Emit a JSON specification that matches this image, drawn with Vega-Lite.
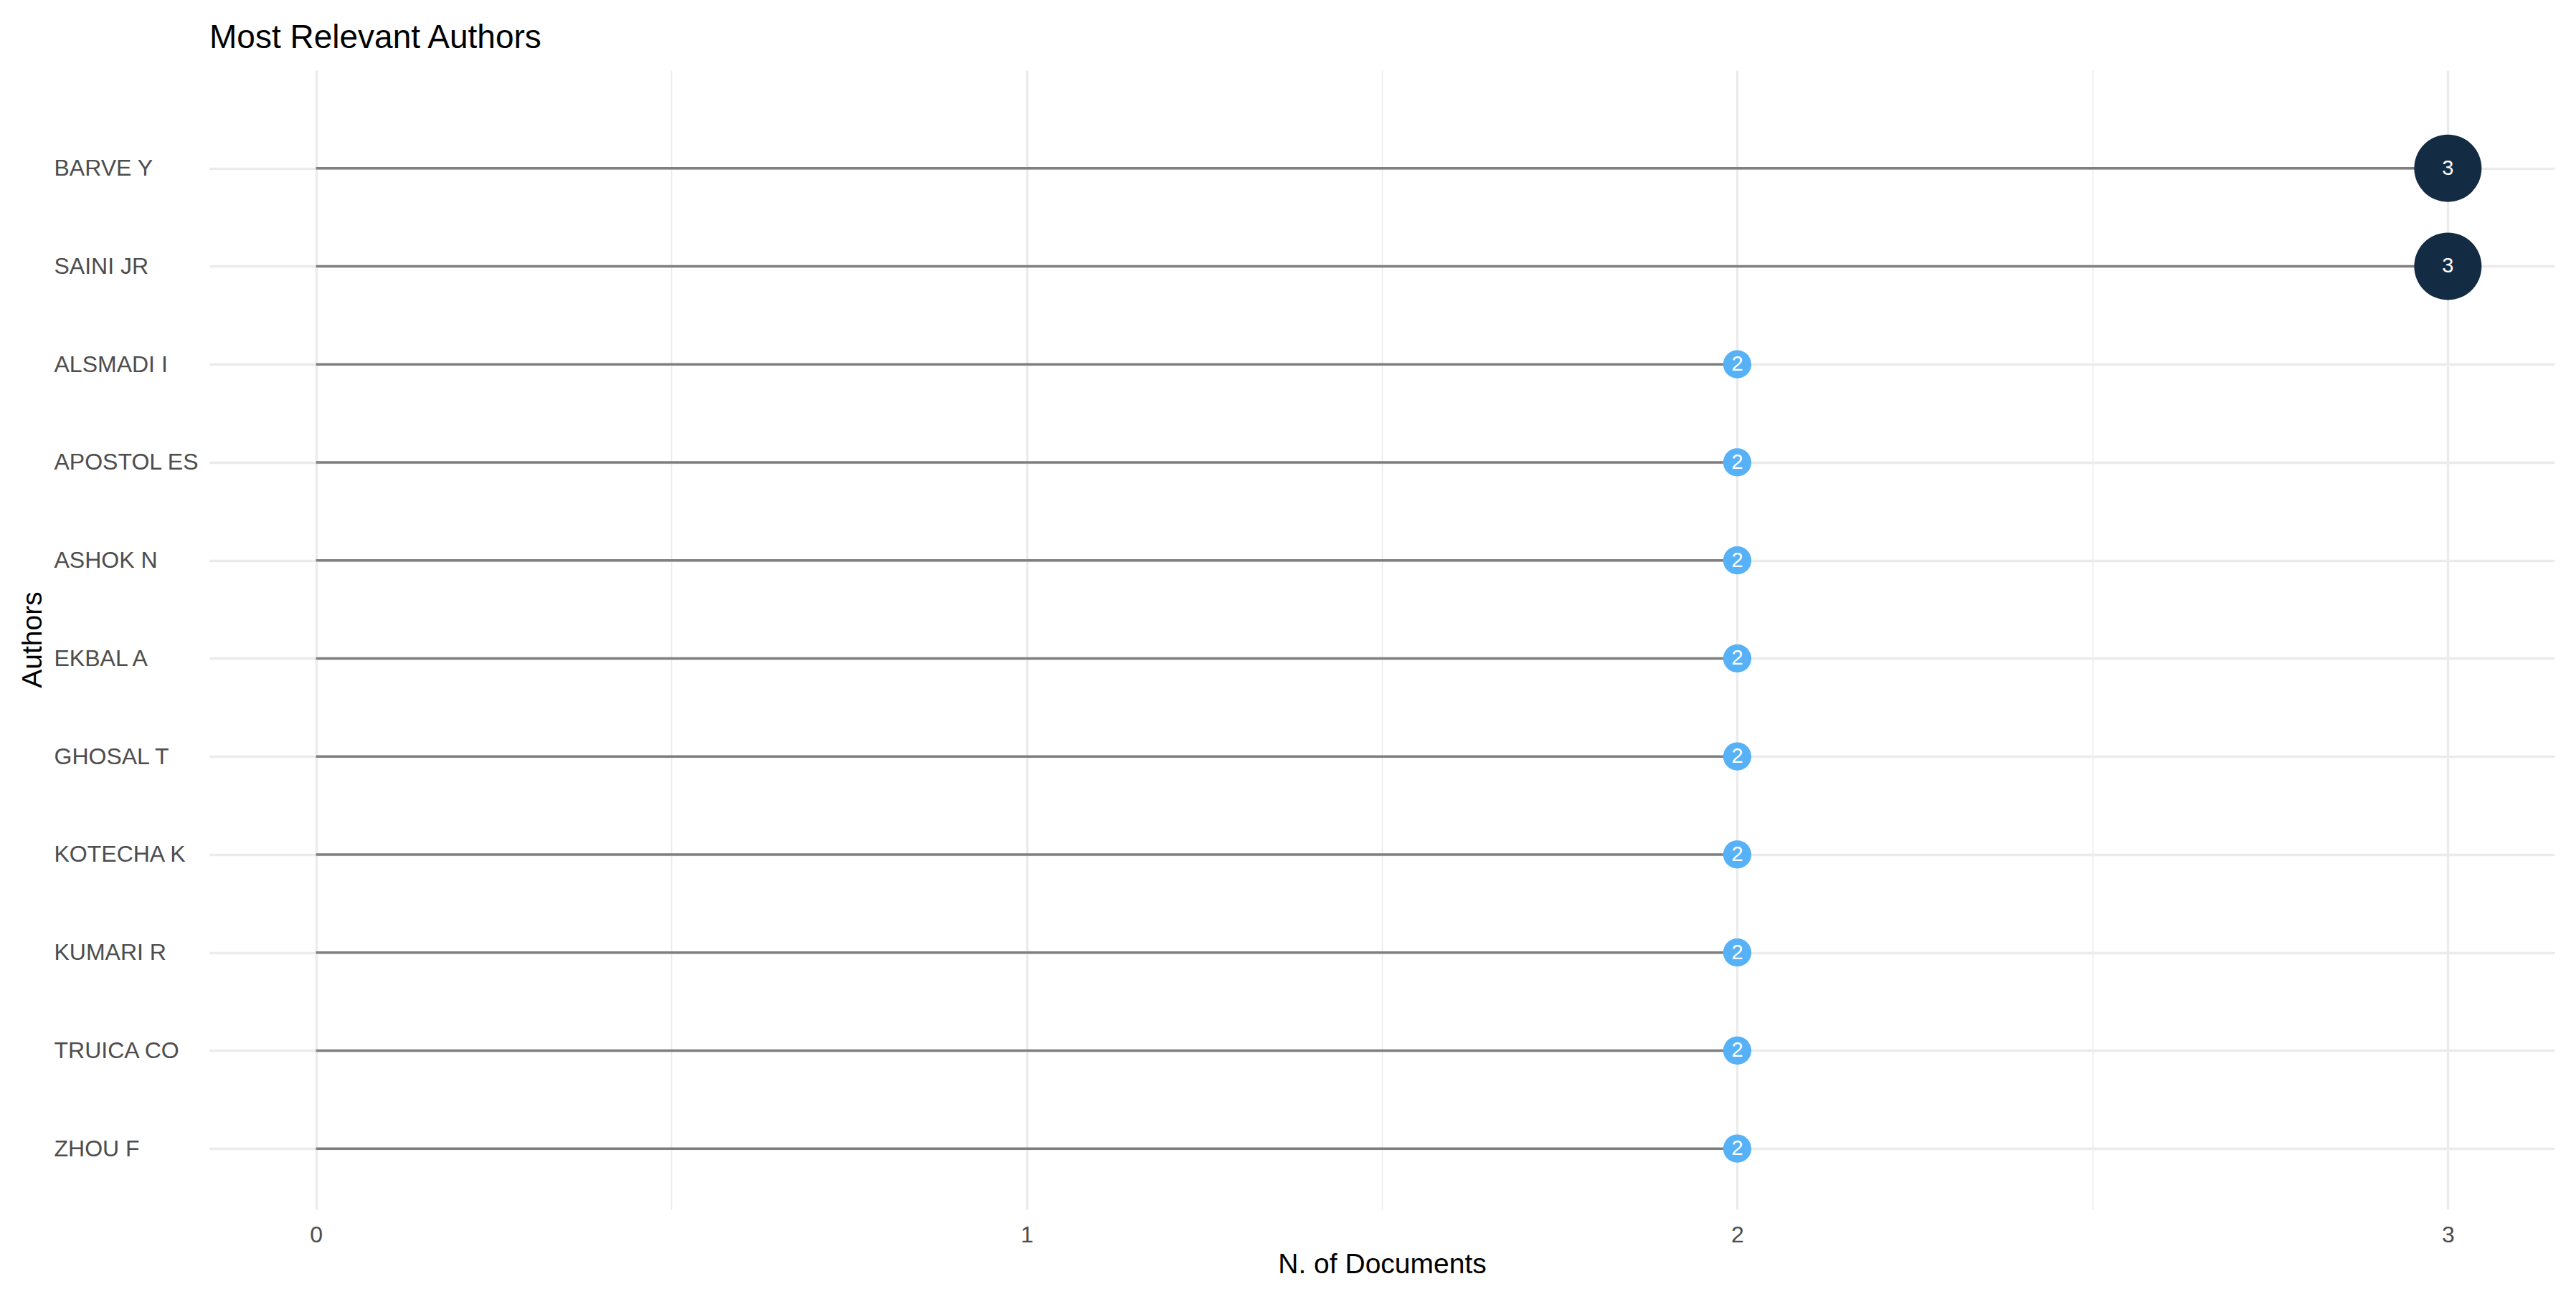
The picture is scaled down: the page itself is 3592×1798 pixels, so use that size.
{
  "$schema": "https://vega.github.io/schema/vega-lite/v6.json",
  "width": 3270,
  "height": 1589,
  "autosize": "none",
  "padding": {"left": 292, "top": 98, "right": 30, "bottom": 111},
  "background": "white",
  "config": {
    "view": {"stroke": null},
    "font": "Liberation Sans"
  },
  "title": {
    "text": "Most Relevant Authors",
    "anchor": "start",
    "frame": "group",
    "font": "Liberation Sans",
    "fontSize": 46,
    "fontWeight": "normal",
    "color": "#000000",
    "baseline": "alphabetic",
    "offset": 28,
    "dy": 43
  },
  "data": {
    "values": [
      {"author": "BARVE Y", "docs": 3},
      {"author": "SAINI JR", "docs": 3},
      {"author": "ALSMADI I", "docs": 2},
      {"author": "APOSTOL ES", "docs": 2},
      {"author": "ASHOK N", "docs": 2},
      {"author": "EKBAL A", "docs": 2},
      {"author": "GHOSAL T", "docs": 2},
      {"author": "KOTECHA K", "docs": 2},
      {"author": "KUMARI R", "docs": 2},
      {"author": "TRUICA CO", "docs": 2},
      {"author": "ZHOU F", "docs": 2}
    ]
  },
  "encoding": {
    "y": {
      "field": "author",
      "type": "nominal",
      "sort": null,
      "scale": {"type": "point", "padding": 0.81, "align": 0.617},
      "axis": {
        "title": "Authors",
        "titleFont": "Liberation Sans",
        "titleFontSize": 39,
        "titleFontWeight": "normal",
        "titleColor": "#000000",
        "titleAngle": -90,
        "titleBaseline": "alphabetic",
        "titleAlign": "center",
        "titleX": -235,
        "titleY": 794,
        "labelFont": "Liberation Sans",
        "labelFontSize": 32,
        "labelColor": "#4D4D4D",
        "labelAlign": "left",
        "labelBaseline": "middle",
        "labelPadding": 217,
        "labelLimit": 0,
        "ticks": false,
        "tickSize": 0,
        "domain": false,
        "grid": true,
        "gridColor": "#EBEBEB",
        "gridWidth": 3.3
      }
    }
  },
  "layer": [
    {
      "mark": {"type": "rule", "color": "#7F7F7F", "strokeWidth": 3.5},
      "encoding": {
        "x": {
          "field": "docs",
          "type": "quantitative",
          "scale": {"domain": [-0.15, 3.15], "nice": false, "zero": false},
          "axis": {
            "title": "N. of Documents",
            "titleFont": "Liberation Sans",
            "titleFontSize": 39,
            "titleFontWeight": "normal",
            "titleColor": "#000000",
            "titleBaseline": "alphabetic",
            "titleY": 88,
            "values": [0, 0.5, 1, 1.5, 2, 2.5, 3],
            "format": "~g",
            "labelExpr": "datum.value % 1 === 0 ? datum.label : ''",
            "labelFont": "Liberation Sans",
            "labelFontSize": 32,
            "labelColor": "#4D4D4D",
            "labelPadding": 20,
            "labelBaseline": "top",
            "ticks": false,
            "tickSize": 0,
            "domain": false,
            "grid": true,
            "gridColor": "#EBEBEB",
            "gridWidth": {"condition": {"test": "datum.value % 1 !== 0", "value": 1.6}, "value": 3.3}
          }
        },
        "x2": {"datum": 0}
      }
    },
    {
      "mark": {"type": "circle", "opacity": 1},
      "encoding": {
        "x": {"field": "docs", "type": "quantitative"},
        "size": {
          "field": "docs",
          "type": "quantitative",
          "scale": {"domain": [2, 3], "range": [1545, 8836]},
          "legend": null
        },
        "color": {
          "field": "docs",
          "type": "quantitative",
          "scale": {"domain": [2, 3], "range": ["#56B1F7", "#132B43"]},
          "legend": null
        }
      }
    },
    {
      "mark": {"type": "text", "color": "#FFFFFF", "fontSize": 29, "font": "Liberation Sans", "baseline": "middle", "align": "center"},
      "encoding": {
        "x": {"field": "docs", "type": "quantitative"},
        "text": {"field": "docs", "type": "quantitative"}
      }
    }
  ]
}
